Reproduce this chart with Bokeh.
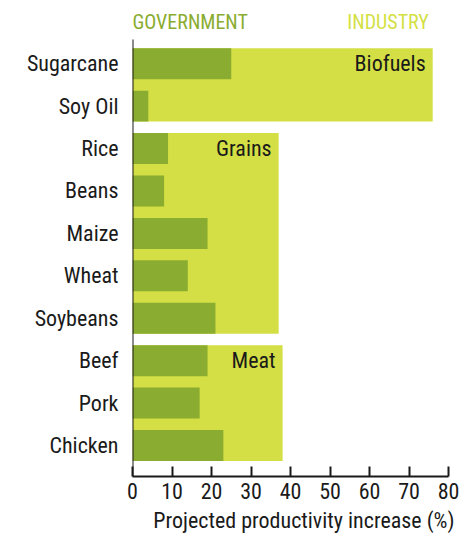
from bokeh.plotting import figure
from bokeh.models import Range1d, FixedTicker, ColumnDataSource, Title
from bokeh.embed import file_html
from bokeh.resources import INLINE
from bokeh.core.properties import value

# ---- data ----
categories = ["Sugarcane", "Soy Oil", "Rice", "Beans", "Maize", "Wheat",
              "Soybeans", "Beef", "Pork", "Chicken"]
government = [25, 4, 9, 8, 19, 14, 21, 19, 17, 23]
groups = ["Biofuels", "Grains", "Meat"]
group_first = ["Sugarcane", "Rice", "Beef"]
group_last = ["Soy Oil", "Soybeans", "Chicken"]
industry = [76, 37, 38]
series_names = ["GOVERNMENT", "INDUSTRY"]
x_ticks = [0, 10, 20, 30, 40, 50, 60, 70, 80]
x_title = "Projected productivity increase (%)"

FONT = "Roboto Condensed"
DARK = "#8aac30"
LIGHT = "#d3df44"
INK = "#1a1a1a"
BAR_H = 0.73
AX_TOP = -0.57      # where the vertical axis line starts (data units)
Y_BOTTOM = 9.73
Y_TOP = -1.49
HEAD_Y = -0.98

rows = list(range(len(categories)))
pos = {c: i for i, c in enumerate(categories)}

p = figure(width=459, height=538, output_backend="svg", toolbar_location=None,
           x_range=Range1d(0, 80), y_range=Range1d(Y_BOTTOM, Y_TOP),
           min_border_left=132, min_border_right=11, min_border_top=0,
           min_border_bottom=62, outline_line_color=None)
p.xgrid.visible = False
p.ygrid.visible = False

# industry blocks
first_i = [pos[c] for c in group_first]
last_i = [pos[c] for c in group_last]
ind_src = ColumnDataSource(dict(
    y=[(a + b) / 2 for a, b in zip(first_i, last_i)],
    h=[(b - a) + BAR_H for a, b in zip(first_i, last_i)],
    right=industry, label=groups, ly=first_i))
p.hbar(y="y", height="h", left=0, right="right", source=ind_src,
       fill_color=LIGHT, line_color=None)

# government bars
gov_src = ColumnDataSource(dict(y=rows, right=government))
p.hbar(y="y", height=BAR_H, left=0, right="right", source=gov_src,
       fill_color=DARK, line_color=None)

# vertical axis line (starts below the header row)
p.segment(x0=[0], y0=[AX_TOP], x1=[0], y1=[Y_BOTTOM], line_color=INK,
          line_width=2)

# group labels
p.text(x="right", y="ly", text="label", source=ind_src, x_offset=-7,
       text_align="right", text_baseline="middle", text_color=INK,
       text_font=value(FONT), text_font_size="22px")

# header labels
head_src = ColumnDataSource(dict(
    x=[0, max(industry)], y=[HEAD_Y, HEAD_Y], text=series_names,
    align=["left", "right"], color=[DARK, LIGHT], dx=[0, -4]))
p.text(x="x", y="y", text="text", source=head_src, x_offset="dx",
       text_align="align", text_baseline="middle", text_color="color",
       text_font=value(FONT), text_font_size="20px")

# x axis
xa = p.xaxis[0]
xa.ticker = FixedTicker(ticks=x_ticks)
xa.major_tick_in = 10
xa.major_tick_out = 0
xa.minor_tick_line_color = None
xa.axis_line_width = 2
xa.major_tick_line_width = 2
xa.axis_line_color = INK
xa.major_tick_line_color = INK
xa.major_label_text_font = FONT
xa.major_label_text_font_size = "22px"
xa.major_label_text_color = INK
xa.major_label_standoff = 6

# x-axis title, right aligned below the axis
p.add_layout(Title(text=x_title, align="right", text_font=FONT,
                   text_font_size="22px", text_font_style="normal",
                   text_color=INK, standoff=8, offset=-6), "below")

# y axis
ya = p.yaxis[0]
ya.ticker = FixedTicker(ticks=rows)
ya.major_label_overrides = {i: c for i, c in enumerate(categories)}
ya.major_tick_line_color = None
ya.minor_tick_line_color = None
ya.axis_line_color = None
ya.major_label_text_font = FONT
ya.major_label_text_font_size = "22px"
ya.major_label_text_color = INK
ya.major_label_standoff = 8

open("out.html", "w").write(file_html(p, INLINE))
